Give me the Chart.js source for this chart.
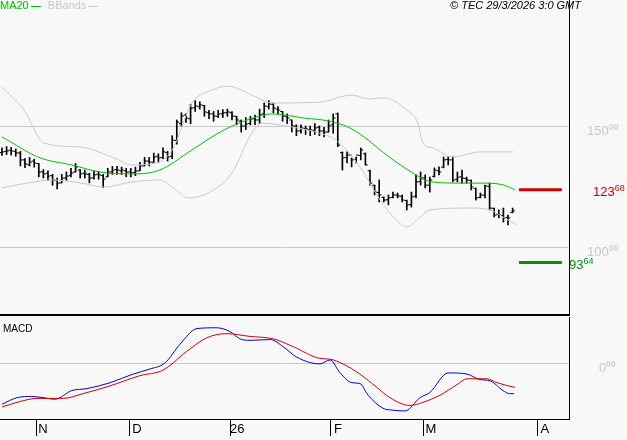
<!DOCTYPE html>
<html>
<head>
<meta charset="utf-8">
<script src="https://cdn.jsdelivr.net/npm/chart.js@4"></script>
<style>
  body { margin: 0; background: #f8f8f8; font-family: "Liberation Sans", Arial, sans-serif; }
  #wrap { position: relative; width: 627px; height: 440px; }
  #main { position: absolute; left: 0; top: 0; }
  #macd { position: absolute; left: 0; top: 317px; }
  .txt { position: absolute; font-size: 11px; white-space: nowrap; line-height: 11px; }
  .dash { display: inline-block; width: 10px; height: 1px; vertical-align: middle; margin-left: 2px; }
</style>
</head>
<body>
<div id="wrap">
  <canvas id="main" width="627" height="317"></canvas>
  <canvas id="macd" width="627" height="123"></canvas>
  <div class="txt" style="left:0;top:0;color:#00c000">MA20<span class="dash" style="background:#00c000"></span>
    <span style="color:#c8c8c8;margin-left:4px">BBands<span class="dash" style="background:#c8c8c8"></span></span></div>
  <div class="txt" style="left:450px;top:0;font-style:italic;color:#000">© TEC 29/3/2026 3:0 GMT</div>
  <div class="txt" style="left:3px;top:323px;font-size:10px;color:#000">MACD</div>
  <div class="txt" style="left:593px;top:183px;font-size:13px;color:#cc0000">123<sup style="font-size:9px">68</sup></div>
  <div class="txt" style="left:569px;top:256px;font-size:13px;color:#009000">93<sup style="font-size:9px">64</sup></div>
</div>
<script>
// 日足 OHLC（インデックス = 営業日）
const opens = [139.0,139.5,140.0,139.5,138.8,136.0,134.0,135.5,134.5,131.0,130.5,129.5,127.5,126.5,128.5,129.5,131.0,131.8,130.5,130.0,128.5,130.0,129.5,129.0,131.0,132.0,131.5,131.5,131.0,130.8,131.5,133.5,135.5,135.0,137.5,137.0,139.0,137.5,144.0,151.0,154.5,153.0,157.5,158.0,158.5,155.5,155.0,154.0,155.0,155.5,155.5,154.0,152.0,150.0,151.0,153.0,152.5,155.0,158.0,159.0,157.0,156.0,154.0,152.5,150.0,148.0,149.0,148.5,148.0,149.5,148.0,147.5,150.5,155.0,
  139.0,137.0,138.0,136.2,137.8,138.5,131.5,125.5,122.5,120.5,119.5,120.5,121.5,121.0,119.2,117.5,121.0,127.0,128.5,125.5,129.2,131.5,133.0,136.2,136.0,128.0,129.0,128.3,127.5,124.2,120.5,121.5,125.0,116.0,113.5,113.0,112.2,114.3];
const highs = [141.0,141.5,141.2,140.5,139.5,136.5,137.0,136.3,134.5,132.0,131.5,130.0,128.5,130.0,131.0,132.5,134.5,132.0,131.8,130.5,131.5,131.3,130.0,132.5,133.3,133.3,133.0,132.5,132.5,133.0,135.0,137.0,137.0,138.8,138.5,141.0,139.5,146.0,152.5,155.5,155.0,159.0,160.5,160.0,158.5,156.5,156.0,156.5,156.8,157.0,156.0,154.0,152.5,153.5,154.0,154.5,157.0,159.5,160.5,159.5,158.0,156.0,155.0,152.5,150.5,150.5,150.0,150.0,151.0,150.0,149.5,152.5,155.0,155.4,
  139.3,139.3,136.8,137.2,140.9,138.9,131.8,125.6,127.7,120.7,121.5,122.7,122.3,121.5,119.4,122.7,129.8,131.0,129.8,128.9,132.7,133.1,137.2,137.2,137.2,131.0,131.8,128.9,127.7,124.4,122.3,125.6,126.4,116.1,115.3,116.1,113.2,116.1];
const lows = [137.8,138.2,138.0,137.5,133.5,132.8,133.5,133.0,129.0,128.5,127.5,125.5,124.0,126.5,127.5,129.0,131.0,128.5,128.5,126.5,128.0,128.0,124.5,129.0,130.0,130.0,130.0,129.0,129.0,129.5,131.5,133.5,133.5,135.0,135.0,136.5,135.5,136.5,142.5,150.0,151.5,151.0,156.0,157.0,154.0,153.0,152.0,153.5,153.5,154.0,152.5,150.5,147.5,148.5,150.5,150.5,151.0,153.5,157.0,155.5,155.0,152.0,151.0,147.5,146.0,147.0,146.5,146.0,146.5,146.0,145.5,147.5,147.0,141.5,
  131.8,134.7,133.1,134.7,136.0,133.9,125.6,121.5,118.6,118.6,117.4,120.3,120.3,118.6,115.3,116.5,120.3,125.6,124.4,122.7,128.9,129.8,132.7,133.9,126.9,126.9,126.4,126.4,123.6,119.4,120.3,120.3,115.3,112.4,112.0,110.3,109.1,114.1];
const closes = [139.3,139.7,139.7,138.9,136.0,134.3,135.1,134.7,131.0,130.2,129.3,127.7,126.4,128.5,129.3,130.6,133.1,130.2,130.2,128.5,129.8,129.8,128.1,131.0,131.8,131.8,131.8,131.0,130.6,131.4,133.5,135.5,135.1,137.2,136.8,139.3,137.2,144.2,151.6,154.1,153.3,157.4,158.3,158.7,155.8,155.0,154.1,155.0,155.4,155.8,154.1,152.5,150.0,150.8,152.9,152.5,154.6,158.3,159.1,157.4,156.6,154.1,153.3,150.0,147.9,149.2,148.8,148.4,149.2,147.9,147.5,150.0,153.3,142.1,
  136.8,138.0,136.0,138.0,140.1,133.9,126.4,122.7,121.5,119.4,120.3,121.5,121.1,119.4,117.4,120.7,126.9,128.5,125.6,127.7,131.8,131.0,136.0,136.0,127.7,128.9,128.5,127.7,124.8,120.3,121.5,125.2,116.1,113.2,113.2,112.0,112.0,114.9];

// MA20 / ボリンジャーバンド（読み取り点）
const maIdx  = [0,8.3,15.2,21.3,28.3,34.3,41.3,48.3,55.2,58.7,65.7,70.9,75.2,78.7,83,88.3,93.5,99.6,104.8,109.1,111.5];
const maVal  = [145.5,136.8,133.9,131.0,130.2,131.8,140.1,148.4,153.7,155.0,153.3,152.1,149.6,145.5,138.9,131.8,126.9,126.4,126.4,125.6,123.6];
const bbUpIdx = [0,4.8,9.1,17,23.9,28.3,33.5,37,41.3,45.7,49.1,55.2,58.7,69.1,76.1,79.6,83,88,90.4,91.5,93.7,98,103.9,111.1];
const bbUpVal = [166.1,156.6,143.0,141.3,137.2,133.9,134.7,140.1,159.5,164.9,166.5,162.0,159.5,159.9,162.8,161.2,161.6,156.6,151.2,143.0,140.9,137.2,139.3,139.3];
const bbLoIdx = [0,5.7,10.9,17,22.2,28.3,34.3,37.8,40.4,44.8,50,54.3,56.5,60.4,69.1,72.6,77.8,82.2,85.7,88,90.9,93,101.7,106.1,108.9,111.9];
const bbLoVal = [124.4,126.5,127.7,126.5,124.8,126.9,127.7,123.6,120.3,122.3,130.6,147.1,151.2,150.4,147.0,144.2,133.1,119.4,111.2,108.3,112.4,115.3,116.1,115.3,112.4,109.1];

// MACD / シグナル
const macdIdx = [0,3.3,6.5,8.9,11.5,15.2,18.5,23.5,28.5,32.2,35.4,38.7,42.4,46.7,49.6,51.7,53.9,58.3,61.1,64.1,69.1,71.3,73.5,76.1,77.8,79.6,82.8,85,87.6,90.9,93,97,101.1,103.9,106.1,108.9,110.4,111.3];
const macdVal = [-5.25,-4.4,-4.25,-4.4,-4.6,-3.5,-3.25,-2.5,-1.4,-0.75,0,2.4,4.4,4.5,4.0,3.1,2.9,3.0,2.1,0.75,-0.1,0.4,-1.25,-2.5,-2.6,-4.1,-5.75,-6.0,-6.1,-4.4,-3.75,-1.25,-1.4,-2.1,-2.25,-3.5,-3.9,-3.9];
const sigIdx = [0,3.3,7.6,13.3,17.6,23.5,30,35,40.2,44.6,48.9,53.9,58.9,63.3,69.1,71.3,74.1,77.8,81.5,84.3,88.7,91.5,95.2,98.9,101.1,105.4,107.6,111.5];
const sigVal = [-5.6,-5.0,-4.5,-4.5,-3.9,-2.9,-1.6,-0.9,1.5,3.25,3.75,3.4,3.1,2.1,0.6,0.5,-0.1,-1.4,-3.1,-4.4,-5.4,-5.0,-4.1,-2.75,-2.0,-2.0,-2.5,-3.1];

// 目標ライン
const levelRange = [112.4, 121.7];
const resistance = 123.68;
const support = 93.64;

// 月ラベル
const monthIdx = [7.4, 27.8, 49.6, 71.5, 91.7, 116.5];
const monthLbl = ['N', 'D', '26', 'F', 'M', 'A'];

const X_MIN = -0.43, X_MAX = 123.26;
const pts = (xs, ys) => xs.map((x, i) => ({ x, y: ys[i] }));
const lineDs = (data, color, width) => ({
  type: 'line', data, borderColor: color, borderWidth: width, pointRadius: 0,
  cubicInterpolationMode: 'monotone', fill: false, clip: false
});
// 軸ラベルによる自動パディングを無効化
const noPad = (s, w, h) => {
  s.paddingTop = s.paddingBottom = s.paddingLeft = s.paddingRight = 0;
  if (w !== undefined) s.width = w;
  if (h !== undefined) s.height = h;
};

Chart.defaults.animation = false;
Chart.defaults.font.family = '"Liberation Sans", Arial, sans-serif';

new Chart(document.getElementById('main'), {
  type: 'bar',
  data: {
    datasets: [
      lineDs(pts(bbUpIdx, bbUpVal), '#c8c8c8', 1),
      lineDs(pts(bbLoIdx, bbLoVal), '#c8c8c8', 1),
      lineDs(pts(maIdx, maVal), '#00c000', 1),
      { type: 'bar', data: closes.map((c, i) => ({ x: i, y: [lows[i], highs[i]] })),
        backgroundColor: '#000', barThickness: 1 },
      { type: 'scatter', data: opens.map((o, i) => ({ x: i - 0.25, y: o })),
        pointStyle: 'line', radius: 1.2, borderColor: '#000', borderWidth: 1 },
      { type: 'scatter', data: closes.map((c, i) => ({ x: i + 0.25, y: c })),
        pointStyle: 'line', radius: 1.2, borderColor: '#000', borderWidth: 1 },
      lineDs(pts(levelRange, [resistance, resistance]), '#cc0000', 3),
      lineDs(pts(levelRange, [support, support]), '#009000', 3)
    ]
  },
  options: {
    responsive: false,
    layout: { padding: 0, autoPadding: false },
    plugins: { legend: { display: false }, tooltip: { enabled: false } },
    scales: {
      x: {
        type: 'linear', min: X_MIN, max: X_MAX, offset: false,
        grid: { display: false }, ticks: { display: false },
        border: { color: '#000', width: 2 },
        afterFit: s => noPad(s, undefined, 2)
      },
      y: {
        position: 'right', min: 71.9, max: 202.07,
        afterBuildTicks: s => { s.ticks = [{ value: 100 }, { value: 150 }]; },
        grid: { color: '#c8c8c8', drawTicks: false },
        border: { color: '#000', width: 1 },
        ticks: { color: '#c8c8c8', font: { size: 13 }, padding: 18, labelOffset: 5,
                 callback: v => v + '⁰⁰' },
        afterFit: s => noPad(s, 58)
      }
    }
  }
});

new Chart(document.getElementById('macd'), {
  type: 'line',
  data: {
    datasets: [
      lineDs(pts(sigIdx, sigVal), '#cc0000', 1),
      lineDs(pts(macdIdx, macdVal), '#0000cc', 1)
    ]
  },
  options: {
    responsive: false,
    layout: { padding: 0, autoPadding: false },
    plugins: { legend: { display: false }, tooltip: { enabled: false } },
    scales: {
      x: {
        type: 'linear', min: X_MIN, max: X_MAX, offset: false,
        afterBuildTicks: s => { s.ticks = monthIdx.map(v => ({ value: v })); },
        grid: { drawOnChartArea: false, color: '#000', tickLength: 17 },
        border: { color: '#000', width: 1 },
        ticks: { color: '#000', font: { size: 13 }, padding: -14, labelOffset: 7,
                 autoSkip: false, maxRotation: 0,
                 callback: (v, i) => monthLbl[i] },
        afterFit: s => noPad(s, undefined, 21)
      },
      y: {
        position: 'right', min: -7.125, max: 5.875,
        afterBuildTicks: s => { s.ticks = [{ value: 0 }]; },
        grid: { color: '#c8c8c8', drawTicks: false },
        border: { color: '#000', width: 1 },
        ticks: { color: '#c8c8c8', font: { size: 13 }, padding: 30, labelOffset: 5,
                 callback: () => '0⁰⁰' },
        afterFit: s => noPad(s, 58)
      }
    }
  }
});
</script>
</body>
</html>
